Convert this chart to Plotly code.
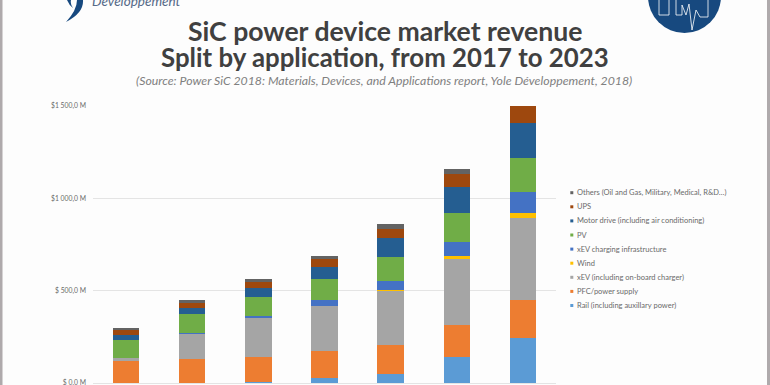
import plotly.graph_objects as go

years = ["2017", "2018", "2019", "2020", "2021", "2022", "2023"]
rail = [0, 0, 3, 25, 47, 142, 243]
pfc = [121, 131, 140, 146, 160, 173, 204]
xev = [14, 139, 209, 245, 294, 359, 445]
wind = [0, 0, 0, 0, 3, 14, 29]
charging = [0, 2, 9, 31, 49, 76, 114]
pv = [99, 99, 103, 115, 132, 159, 184]
motor = [27, 36, 50, 67, 99, 141, 191]
ups = [25, 25, 31, 41, 50, 70, 90]
others = [14, 18, 16, 20, 25, 23, 1]

series_names = ["Rail (including auxillary power)", "PFC/power supply", "xEV (including on-board charger)",
                "Wind", "xEV charging infrastructure", "PV", "Motor drive (including air conditioning)",
                "UPS", "Others (Oil and Gas, Military, Medical, R&D…)"]
series_values = [rail, pfc, xev, wind, charging, pv, motor, ups, others]
series_colors = ["#5B9BD5", "#ED7D31", "#A5A5A5", "#FFC000", "#4472C4", "#70AD47", "#255E91", "#9E480E", "#636363"]
y_ticks = [0, 500, 1000, 1500]
y_labels = ["$ 0,0 M", "$ 500,0 M", "$1 000,0 M", "$1 500,0 M"]

W, H = 770, 385
L, R, T, B = 93, 556, 106, 383
FONT = "Lato, 'Open Sans', sans-serif"


def px(x):
    return (x - L) / (R - L)


def py(y):
    return (B - y) / (B - T)


def label(text, x, y, size, color, anchor="center"):
    return dict(text=text, x=px(x), y=py(y), xref="paper", yref="paper", showarrow=False,
                xanchor=anchor, yanchor="middle", font=dict(size=size, color=color, family=FONT))


def polyline(points, color="#FFFFFF", width=0.8):
    path = "M " + " L ".join(f"{px(a)} {py(b)}" for a, b in points)
    return dict(type="path", xref="paper", yref="paper", path=path, line=dict(color=color, width=width))


fig = go.Figure()
for n, v, c in zip(series_names, series_values, series_colors):
    fig.add_trace(go.Bar(name=n, x=years, y=v, marker=dict(color=c, line_width=0), width=0.4))

annotations = [
    label("<b>SiC power device market revenue</b>", 385, 31, 26.6, "#404040"),
    label("<b>Split by application, from 2017 to 2023</b>", 385, 57, 25.8, "#404040"),
    label("<i>(Source: Power SiC 2018: Materials, Devices, and Applications report, Yole Développement, 2018)</i>",
          384, 80, 12.3, "#808080"),
    label("<i>Développement</i>", 90, 1, 13.5, "#566A88", "left"),
]
shapes = [
    dict(type="rect", xref="paper", yref="paper", x0=px(0), x1=px(2.5), y0=py(385), y1=py(0),
         fillcolor="#AFAAAC", line_width=0),
    dict(type="rect", xref="paper", yref="paper", x0=px(767), x1=px(770), y0=py(385), y1=py(0),
         fillcolor="#AFAAAC", line_width=0),
    dict(type="circle", xref="paper", yref="paper", x0=px(648), x1=px(721), y0=py(33), y1=py(-40),
         fillcolor="#17497F", line_width=0),
    polyline([(659, 0), (659, 15), (669, 15), (669, 0)]),
    polyline([(676, 0), (676, 15), (682, 15), (682, 5), (686, 15), (689, 4), (692, 30), (696, 10), (700, 17), (708, 17), (708, 0)]),
    dict(type="path", xref="paper", yref="paper",
         path=f"M {px(83)} {py(0)} Q {px(84)} {py(13)} {px(66)} {py(22)} Q {px(77)} {py(10)} {px(77)} {py(0)} Z",
         fillcolor="#17497F", line_width=0),
    dict(type="path", xref="paper", yref="paper",
         path=f"M {px(67)} {py(0)} Q {px(69)} {py(5)} {px(73)} {py(8)} Q {px(70)} {py(4)} {px(71)} {py(0)} Z",
         fillcolor="#17497F", line_width=0),
]

# Hand-set legend: small swatches, top entry is the last series
for i, (n, c) in enumerate(zip(reversed(series_names), reversed(series_colors))):
    row_y = 192.7 + i * 14.1
    shapes.append(dict(type="rect", xref="paper", yref="paper", x0=px(570.3), x1=px(573.3),
                       y0=py(row_y + 1.5), y1=py(row_y - 1.5), fillcolor=c, line_width=0))
    annotations.append(label(n, 575, row_y, 7.5, "#6A6A6A", "left"))

fig.update_layout(
    width=W, height=H, barmode="stack", paper_bgcolor="#FDFDFD", plot_bgcolor="rgba(0,0,0,0)",
    margin=dict(l=L, r=W - R, t=T, b=H - B, autoexpand=False), autosize=False,
    font=dict(family=FONT, color="#595959"),
    showlegend=False,
    xaxis=dict(showticklabels=False, showgrid=False, zeroline=False, ticks="", showline=False),
    yaxis=dict(range=[0, 1500], tickvals=y_ticks, ticktext=y_labels, showgrid=True, gridcolor="#E4E4E4",
               gridwidth=1.2, zeroline=True, zerolinecolor="#E4E4E4", zerolinewidth=1.2, showline=False,
               tickfont=dict(size=6.8, color="#6A6A6A"), ticks="", ticklen=0, automargin=False,
               ticklabelstandoff=6, ticklabeloverflow="allow"),
    annotations=annotations,
    shapes=shapes,
)
fig.write_html("out.html", config={"displayModeBar": False},
               post_script="document.documentElement.style.overflow='hidden';document.body.style.margin='0';")
